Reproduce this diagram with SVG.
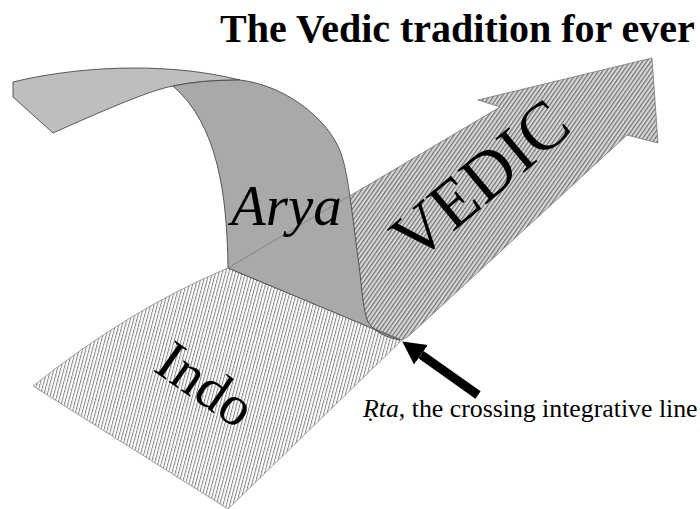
<svg xmlns="http://www.w3.org/2000/svg" width="700" height="509" viewBox="0 0 700 509">
  <defs>
    <pattern id="hIndo" width="3.2" height="10" patternUnits="userSpaceOnUse" patternTransform="rotate(15)">
      <rect width="3.2" height="10" fill="#ffffff"/>
      <rect width="1" height="10" fill="#858585"/>
    </pattern>
    <pattern id="hVedic" width="3.4" height="10" patternUnits="userSpaceOnUse" patternTransform="rotate(35)">
      <rect width="3.4" height="10" fill="#d8d8d8"/>
      <rect width="1.2" height="10" fill="#707070"/>
    </pattern>
    <marker id="head" markerUnits="userSpaceOnUse" markerWidth="24" markerHeight="26" refX="0" refY="12" orient="auto" viewBox="0 0 24 24">
      <path d="M0,0 L23,12 L0,24 Z" fill="#000"/>
    </marker>
    <style>
      .serif { font-family: "Liberation Serif", "Times New Roman", serif; fill: #000; }
      .edge { stroke: #4a4a4a; stroke-width: 0.9; stroke-linejoin: round; }
    </style>
  </defs>

  <g id="title">
    <text class="serif" x="220" y="42" font-size="40" font-weight="bold">The Vedic tradition for ever</text>
  </g>

  <g id="indo">
    <path d="M33,386 Q129.5,309 228,268 L402,340 L228,509 Z" fill="url(#hIndo)" stroke="#8a8a8a" stroke-width="0.8"/>
    <text class="serif" font-size="57" transform="translate(152,370) rotate(35)">Indo</text>
  </g>

  <g id="vedic">
    <path d="M228,268 L500,107 L478,100 L652,58 L658,143 L627,135 L412,333 Q407,338 402,340 Z" fill="url(#hVedic)" stroke="#777" stroke-width="0.8"/>
    <text class="serif" font-size="68" transform="translate(415,264) rotate(-40)">VEDIC</text>
  </g>

  <g id="arya">
    <path d="M13,82 C70,68 160,60 240,80 Q200,80 173,86 C150,90 100,112 53,133 L13,97 Z" fill="#bebebe" class="edge"/>
    <path d="M173,86 Q200,80 240,80 C290,86 335,125 343,160 C349,180 354,230 359,265 C362,290 363,310 368,322 C375,333 388,338 400,340 L228,268 C227,195 218,125 173,86 Z" fill="#a9a9a9" class="edge"/>
    <line x1="228" y1="268" x2="351" y2="195" stroke="#7a7a7a" stroke-width="0.8"/>
    <text class="serif" x="231" y="225" font-size="57" font-style="italic">Arya</text>
  </g>

  <g id="connectors">
    <line x1="478" y1="395" x2="421" y2="354.7" stroke="#000" stroke-width="9" marker-end="url(#head)"/>
  </g>

  <g id="caption">
    <text class="serif" x="363" y="417" font-size="25.8"><tspan font-style="italic">Ṛta</tspan>, the crossing integrative line</text>
  </g>
</svg>
